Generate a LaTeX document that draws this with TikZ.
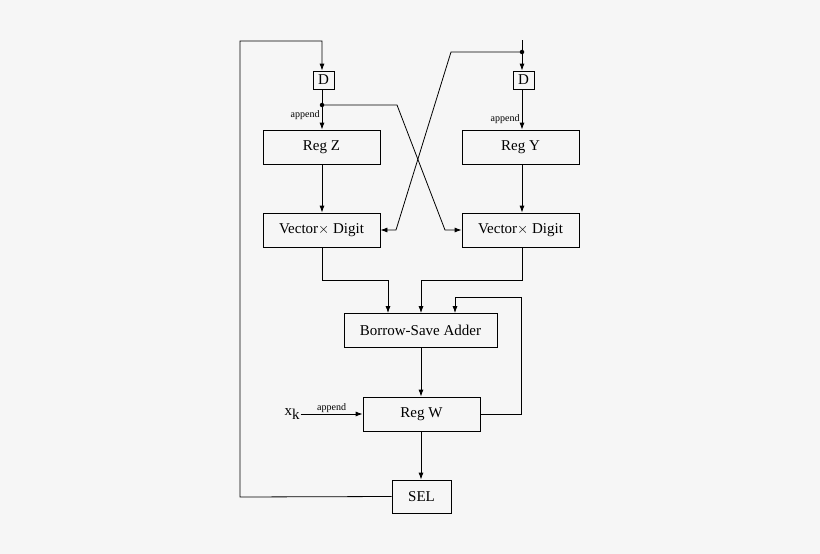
\documentclass[tikz,border=0pt]{standalone}
\usepackage{fontspec}
\setmainfont{Liberation Serif}
\usetikzlibrary{arrows.meta}
\begin{document}
\begin{tikzpicture}[x=1pt,y=-1pt,
 box/.style={draw,thick,minimum height=34pt,inner sep=0pt,font=\fontsize{15}{17}\selectfont},
 dbox/.style={draw,thick,minimum width=21pt,minimum height=18pt,inner sep=0pt,font=\fontsize{15}{17}\selectfont},
 ln/.style={thick},
 ar/.style={thick,-{Latex[length=7pt,width=5pt]}},
 dot/.style={circle,fill,inner sep=0pt,minimum size=4.5pt},
 small/.style={font=\fontsize{10}{12}\selectfont}]
\fill[gray!7] (0,0) rectangle (820,554);
\useasboundingbox (0,0) rectangle (820,554);
\node[dbox] (DL) at (323.5,80) {D};
\node[dbox] (DR) at (523.5,80) {D};
\node[box,minimum width=117pt] (RZ) at (321.5,147) {Reg Z};
\node[box,minimum width=117pt] (RY) at (520.5,147) {Reg Y};
\node[box,minimum width=117pt] (VL) at (321.5,230) {Vector$\times$ Digit};
\node[box,minimum width=117pt] (VR) at (520.5,230) {Vector$\times$ Digit};
\node[box,minimum width=153pt] (BSA) at (420.5,330.5) {Borrow-Save Adder};
\node[box,minimum width=117pt] (RW) at (421.5,414) {Reg W};
\node[box,minimum width=59pt,minimum height=33pt] (SEL) at (421.5,496.5) {SEL};
\node[font=\fontsize{15}{17}\selectfont,inner sep=1pt] (xk) at (292,414) {x\raisebox{-0.5ex}{k}};
\node[dot] (pL) at (322,105) {};
\node[dot] (pR) at (522,52) {};
\coordinate (tR) at (522,40);
\draw[ln] (tR) -- (pR.center);
\draw[ar] (pR.center) -- (DR.north -| pR);
\draw[ar] (SEL.west) -- (240,497) -- (240,41) -- (322,41) -- (DL.north -| pL);
\draw[ln] (DL.south -| pL) -- (pL.center);
\draw[ar] (pL.center) -- node[small,left,pos=0.4,inner sep=2pt]{append} (RZ.north -| pL);
\draw[ar] (DR.south -| pR) -- node[small,left,pos=0.75,inner sep=2pt]{append} (RY.north -| pR);
\draw[ar] (RZ.south -| pL) -- (VL.north -| pL);
\draw[ar] (RY.south -| pR) -- (VR.north -| pR);
\draw[ar] (pL.center) -- (397,105) -- (445,230) -- (VR.west);
\draw[ar] (pR.center) -- (451,52) -- (396,230) -- (VL.east);
\draw[ar] (VL.south -| pL) -- (322,280) -- (388,280) -- (BSA.north -| 388,0);
\draw[ar] (VR.south -| pR) -- (522,280) -- (421,280) -- (BSA.north -| 421,0);
\draw[ar] (RW.east) -- (521,414) -- (521,297) -- (455,297) -- (BSA.north -| 455,0);
\draw[ar] (BSA.south -| 421,0) -- (RW.north -| 421,0);
\draw[ar] (RW.south -| 421,0) -- (SEL.north -| 421,0);
\draw[ar] (xk.east) -- node[small,above,inner sep=1pt]{append} (RW.west);
\end{tikzpicture}
\end{document}
